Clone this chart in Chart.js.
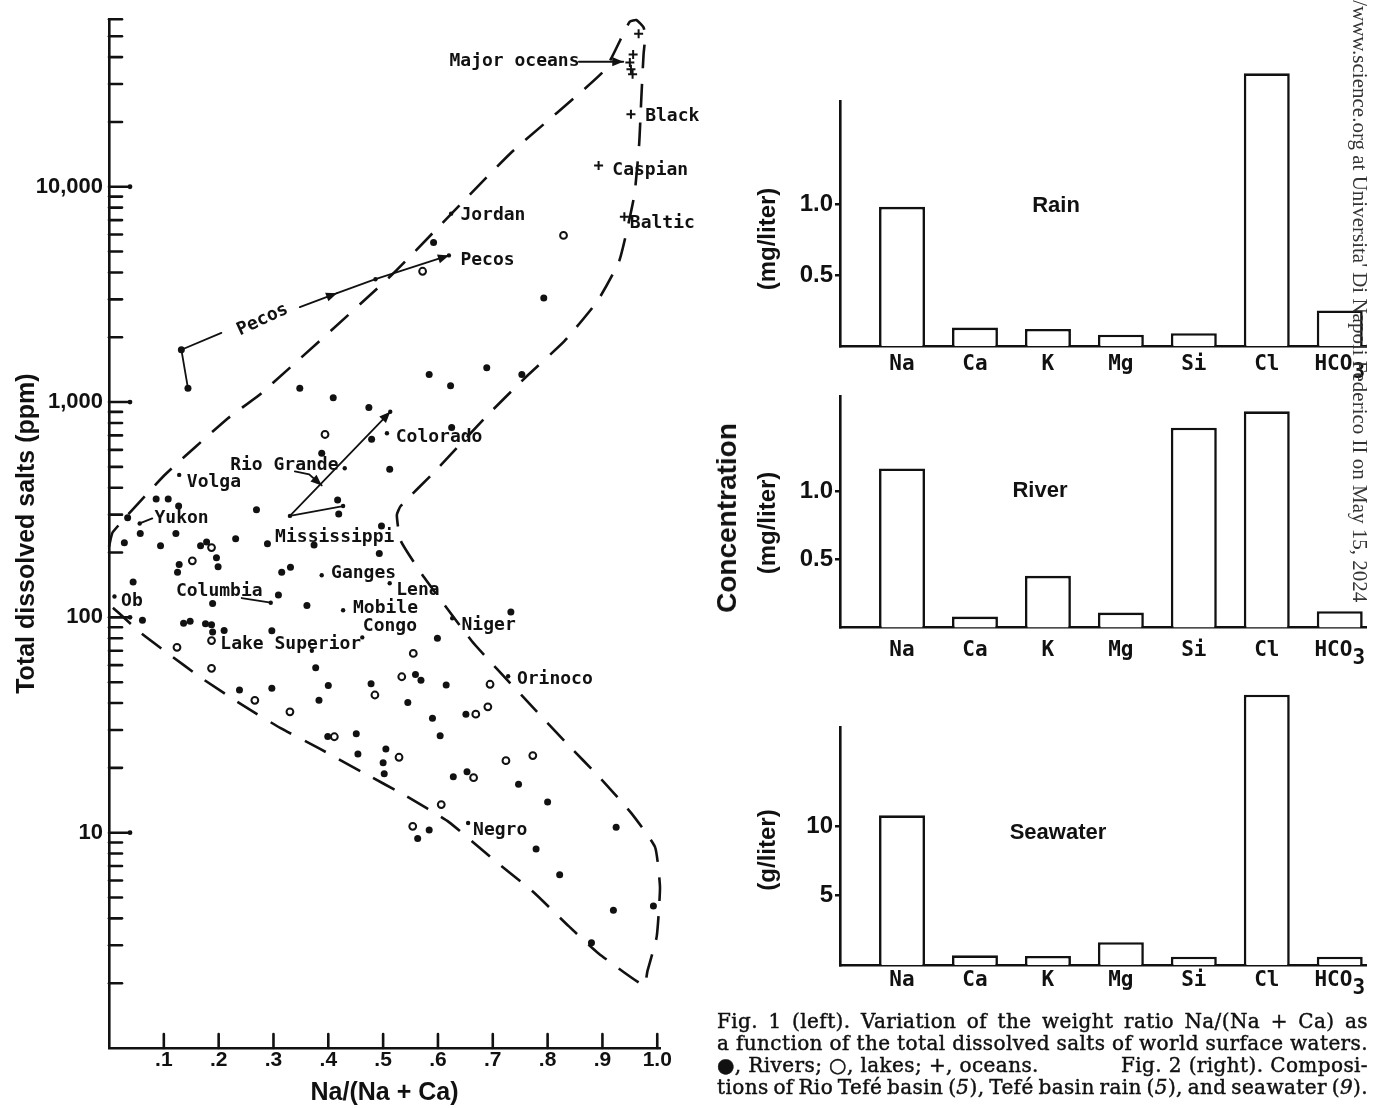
<!DOCTYPE html>
<html>
<head>
<meta charset="utf-8">
<title>Na/(Na + Ca) vs dissolved salts; Rio Tefé compositions</title>
<script src="https://cdn.jsdelivr.net/npm/chart.js@4.4.1/dist/chart.umd.min.js"></script>
<style>
  html, body { margin: 0; padding: 0; background: #fff; }
  body { position: relative; width: 1383px; height: 1108px; overflow: hidden; }
  canvas { position: absolute; }
  #gibbs { left: 0; top: 0; }
  #rain { left: 700px; top: 60px; }
  #river { left: 700px; top: 380px; }
  #sea { left: 700px; top: 690px; }
  .conc {
    position: absolute; left: 727px; top: 518px;
    transform: translate(-50%, -50%) rotate(-90deg);
    font: bold 28px "Liberation Sans", Arial, sans-serif;
    white-space: nowrap; color: #111;
  }
  .stamp {
    position: absolute; left: 1347px; bottom: 506px;
    writing-mode: vertical-rl;
    font: 21px "Liberation Serif", "Times New Roman", serif;
    white-space: nowrap; color: #333;
  }
  .caption {
    position: absolute; left: 717px; top: 1010px; width: 651px;
    font: 20px/22px "DejaVu Serif", "Liberation Serif", serif;
    letter-spacing: 0.4px;
    -webkit-text-stroke: 0.45px #111;
    color: #111;
  }
  .caption .ln { white-space: nowrap; height: 22px; }
  .caption .split { display: flex; justify-content: space-between; }
</style>
</head>
<body>
<canvas id="gibbs" width="700" height="1108"></canvas>
<canvas id="rain" width="683" height="330"></canvas>
<canvas id="river" width="683" height="300"></canvas>
<canvas id="sea" width="683" height="320"></canvas>
<div class="conc">Concentration</div>
<div class="caption">
  <div class="ln"><span>Fig. 1 (left). Variation of the weight ratio Na/(Na + Ca) as</span></div>
  <div class="ln"><span>a function of the total dissolved salts of world surface waters.</span></div>
  <div class="ln split"><span>●, Rivers; ○, lakes; +, oceans.</span><span>Fig. 2 (right). Composi-</span></div>
  <div class="ln"><span>tions of Rio Tefé basin (<i>5</i>), Tefé basin rain (<i>5</i>), and seawater (<i>9</i>).</span></div>
</div>
<div class="stamp">Downloaded from https://www.science.org at Universita' Di Napoli Federico II on May 15, 2024</div>

<script>
// ---- Fig. 1 : Na/(Na+Ca) against total dissolved salts (ppm) ----
const riverPts = [
  [0.793, 3040], [0.592, 5510], [0.144, 1160], [0.132, 1750],
  [0.584, 1343], [0.623, 1190], [0.689, 1442], [0.753, 1343],
  [0.348, 1160], [0.409, 1046], [0.474, 944],
  [0.479, 671], [0.625, 762], [0.388, 578], [0.512, 488],
  [0.086, 355], [0.108, 355], [0.127, 329], [0.269, 316], [0.034, 290],
  [0.417, 351], [0.419, 302], [0.497, 266],
  [0.057, 245], [0.122, 245], [0.028, 222], [0.094, 215], [0.167, 215], [0.178, 224],
  [0.231, 232], [0.289, 220], [0.374, 217], [0.493, 198],
  [0.196, 189], [0.128, 176], [0.199, 172], [0.125, 162], [0.315, 162], [0.331, 171],
  [0.044, 146], [0.309, 127], [0.189, 116], [0.361, 113.5], [0.733, 106],
  [0.061, 97], [0.136, 94], [0.148, 96], [0.176, 93.5], [0.187, 92.5], [0.189, 85.5], [0.21, 87], [0.297, 86.7],
  [0.599, 80], [0.377, 58.4], [0.559, 54.3], [0.569, 51], [0.615, 48.5],
  [0.238, 46], [0.297, 46.9], [0.40, 48.3], [0.478, 49.2], [0.383, 41.2], [0.545, 40.2],
  [0.59, 34], [0.651, 35.5], [0.399, 28], [0.451, 28.8], [0.604, 28.2],
  [0.454, 23.2], [0.505, 24.5], [0.5, 21.1], [0.502, 18.8], [0.628, 18.2], [0.653, 19.2], [0.747, 16.8],
  [0.8, 13.9], [0.584, 10.3], [0.563, 9.4], [0.925, 10.6], [0.779, 8.4], [0.822, 6.37],
  [0.92, 4.36], [0.993, 4.57], [0.88, 3.08]
];
// small dots of the named rivers
const namedRiverPts = [
  [0.624, 7500], [0.486, 3720], [0.62, 4800], [0.513, 901], [0.507, 716], [0.43, 493],
  [0.128, 459], [0.056, 273], [0.33, 296], [0.427, 329], [0.388, 157], [0.512, 144],
  [0.295, 117], [0.01, 125], [0.427, 108], [0.626, 99], [0.462, 80.7], [0.728, 53.3],
  [0.655, 11.1], [0.37, 70]
];
const lakePts = [
  [0.572, 4050], [0.829, 5940], [0.394, 707], [0.187, 211], [0.152, 183],
  [0.187, 78], [0.124, 72.6], [0.555, 68], [0.187, 58], [0.534, 53], [0.695, 48.9],
  [0.266, 41.2], [0.485, 43.6], [0.33, 36.4], [0.669, 35.5], [0.691, 38.4], [0.411, 27.9],
  [0.529, 22.4], [0.724, 21.6], [0.773, 22.8], [0.665, 18.0], [0.606, 13.5], [0.554, 10.7]
];
const oceanPts = [
  [0.966, 51400], [0.956, 41100], [0.95, 37800], [0.952, 35100], [0.955, 33300],
  [0.952, 21700], [0.893, 12550], [0.94, 7260]
];
// dashed boundary (boomerang)
const envelope = [
  [0.0, 213], [0.007, 249], [0.103, 462], [0.217, 841], [0.278, 1100], [0.515, 3880],
  [0.731, 14200], [0.902, 34350], [0.94, 52500], [0.95, 58500], [0.962, 59500], [0.975, 55000],
  [0.978, 50000], [0.975, 41100], [0.971, 26000], [0.967, 15800], [0.958, 9080], [0.931, 4550],
  [0.891, 2945], [0.831, 1923], [0.759, 1297], [0.69, 867], [0.593, 472], [0.532, 329],
  [0.525, 299], [0.532, 227], [0.575, 153], [0.662, 77.5], [0.708, 57.5], [0.774, 38],
  [0.833, 26.3], [0.898, 17.7], [0.953, 12.3], [0.996, 8.57], [1.005, 5.55], [0.999, 3.29],
  [0.982, 2.27], [0.976, 1.95], [0.893, 2.75], [0.839, 3.67], [0.773, 5.33], [0.70, 7.55],
  [0.62, 11.2], [0.54, 14.9], [0.462, 19.1], [0.385, 24.5], [0.313, 30.6], [0.243, 39.2],
  [0.169, 52.2], [0.109, 67.6], [0.058, 84.7], [0.018, 104.7], [0.0, 115]
];
const ppmTicks = [10, 100, 1000, 10000];
const ratioTicks = [0.1, 0.2, 0.3, 0.4, 0.5, 0.6, 0.7, 0.8, 0.9, 1.0];
// [text, x, ppm, rotation]
const fig1Labels = [
  ['Major oceans', 0.621, 38070], ['Black', 0.978, 21200], ['Caspian', 0.918, 11900],
  ['Baltic', 0.95, 6740], ['Jordan', 0.641, 7360], ['Pecos', 0.641, 4570], ['Pecos', 0.28, 2410, -25],
  ['Colorado', 0.523, 686], ['Rio Grande', 0.221, 511], ['Volga', 0.142, 422], ['Yukon', 0.083, 288],
  ['Mississippi', 0.303, 236], ['Ganges', 0.405, 160], ['Lena', 0.524, 133], ['Columbia', 0.122, 132],
  ['Ob', 0.022, 119], ['Mobile', 0.445, 110], ['Congo', 0.463, 90.6], ['Niger', 0.643, 91.8],
  ['Lake Superior', 0.203, 74.8], ['Orinoco', 0.744, 51.5], ['Negro', 0.664, 10.3]
];
const leaders = [
  { pts: [[0.144, 1160], [0.132, 1750], [0.205, 2094]] },
  { pts: [[0.348, 2760], [0.416, 3205]], arrow: true },
  { pts: [[0.416, 3205], [0.486, 3720], [0.62, 4800]], arrow: true },
  { pts: [[0.857, 38070], [0.938, 38070]], arrow: true },
  { pts: [[0.33, 296], [0.513, 901]], arrow: true },
  { pts: [[0.33, 296], [0.427, 329]] },
  { pts: [[0.339, 476], [0.365, 462], [0.388, 410]], arrow: true },
  { pts: [[0.242, 123], [0.295, 117]] },
  { pts: [[0.056, 273], [0.079, 288]] }
];

// ---- Fig. 2 : compositions ----
const elements = ['Na', 'Ca', 'K', 'Mg', 'Si', 'Cl', 'HCO3'];
const rainMgL = [0.98, 0.13, 0.12, 0.08, 0.09, 1.92, 0.25];
const riverMgL = [1.17, 0.08, 0.38, 0.11, 1.47, 1.59, 0.12];
const seaGL = [10.8, 0.7, 0.65, 1.65, 0.6, 19.5, 0.6];
const mgTicks = [0.5, 1.0];
const gTicks = [5, 10];

const INK = '#111';
const SANS = '"Liberation Sans", Arial, sans-serif';
const MONO = '"DejaVu Sans Mono", monospace';
const toXY = arr => arr.map(([x, y]) => ({ x, y }));

function arrowHead(ctx, from, to, size) {
  const a = Math.atan2(to[1] - from[1], to[0] - from[0]);
  const bx = to[0] - size * Math.cos(a), by = to[1] - size * Math.sin(a);
  const w = size * 0.42;
  ctx.beginPath();
  ctx.moveTo(to[0], to[1]);
  ctx.lineTo(bx + w * Math.sin(a), by - w * Math.cos(a));
  ctx.lineTo(bx - w * Math.sin(a), by + w * Math.cos(a));
  ctx.closePath();
  ctx.fill();
}

// inward axis ticks, leader lines and river names
const gibbsExtras = {
  id: 'gibbsExtras',
  afterDraw(chart) {
    const { ctx, chartArea: a, scales: { x, y } } = chart;
    const px = p => [x.getPixelForValue(p[0]), y.getPixelForValue(p[1])];
    ctx.save();
    ctx.strokeStyle = INK; ctx.fillStyle = INK; ctx.lineCap = 'round';
    ctx.lineWidth = 2.6;
    for (let k = 0; k <= 4; k++) {
      for (let m = 1; m <= 9; m++) {
        const v = m * Math.pow(10, k);
        if (v <= 1 || v > 60000) continue;
        const yy = y.getPixelForValue(v);
        const len = m === 1 ? 21 : 13;
        ctx.beginPath(); ctx.moveTo(a.left, yy); ctx.lineTo(a.left + len, yy); ctx.stroke();
        if (m === 1) { ctx.beginPath(); ctx.arc(a.left + len, yy, 2.4, 0, Math.PI * 2); ctx.fill(); }
      }
    }
    ratioTicks.forEach(v => {
      const xx = x.getPixelForValue(v);
      ctx.beginPath(); ctx.moveTo(xx, a.bottom); ctx.lineTo(xx, a.bottom - 14); ctx.stroke();
    });

    ctx.lineWidth = 1.8;
    leaders.forEach(l => {
      const pts = l.pts.map(px);
      ctx.beginPath();
      pts.forEach((p, i) => (i ? ctx.lineTo(p[0], p[1]) : ctx.moveTo(p[0], p[1])));
      ctx.stroke();
      if (l.arrow) arrowHead(ctx, pts[pts.length - 2], pts[pts.length - 1], 11);
    });

    ctx.font = 'bold 18px ' + MONO;
    ctx.textBaseline = 'middle';
    fig1Labels.forEach(([t, vx, vy, rot]) => {
      const [lx, ly] = px([vx, vy]);
      if (rot) {
        ctx.save(); ctx.translate(lx, ly); ctx.rotate(rot * Math.PI / 180);
        ctx.textAlign = 'center'; ctx.fillText(t, 0, 0); ctx.restore();
      } else {
        ctx.textAlign = 'left'; ctx.fillText(t, lx, ly);
      }
    });
    ctx.restore();
  }
};

new Chart(document.getElementById('gibbs'), {
  type: 'scatter',
  data: {
    datasets: [
      { data: toXY(envelope), showLine: true, borderColor: INK, borderWidth: 2.6, borderDash: [24, 15],
        pointRadius: 0, tension: 0.15, fill: false, clip: false },
      { data: toXY(riverPts), pointRadius: 3.5, backgroundColor: INK, borderColor: INK, borderWidth: 0, clip: false },
      { data: toXY(namedRiverPts), pointRadius: 2.2, backgroundColor: INK, borderColor: INK, borderWidth: 0, clip: false },
      { data: toXY(lakePts), pointRadius: 3.4, backgroundColor: '#fff', borderColor: INK, borderWidth: 2, clip: false },
      { data: toXY(oceanPts), pointStyle: 'cross', pointRadius: 4.5, borderColor: INK, borderWidth: 2, clip: false }
    ]
  },
  options: {
    responsive: false,
    animation: false,
    layout: { padding: { left: 0, top: 14, right: 40, bottom: 0 } },
    plugins: { legend: { display: false }, tooltip: { enabled: false } },
    scales: {
      x: {
        type: 'linear', min: 0, max: 1.005,
        afterFit: s => { s.height = 60; },
        afterBuildTicks: s => { s.ticks = ratioTicks.map(v => ({ value: v })); },
        ticks: {
          autoSkip: false, maxRotation: 0, padding: 0, color: INK,
          font: { family: SANS, size: 21, weight: 'bold' },
          callback: v => (v >= 1 ? '1.0' : '.' + Math.round(v * 10))
        },
        grid: { display: false, drawTicks: false },
        border: { display: true, color: INK, width: 2.6 },
        title: { display: true, text: 'Na/(Na + Ca)', color: INK,
                 font: { family: SANS, size: 25, weight: 'bold' }, padding: { top: 0, bottom: 0 } }
      },
      y: {
        type: 'logarithmic', min: 1, max: 60000,
        afterFit: s => { s.width = 109; },
        afterBuildTicks: s => { s.ticks = ppmTicks.map(v => ({ value: v })); },
        ticks: {
          autoSkip: false, padding: 6, color: INK,
          font: { family: SANS, size: 22, weight: 'bold' },
          callback: v => Number(v).toLocaleString('en-US')
        },
        grid: { display: false, drawTicks: false },
        border: { display: true, color: INK, width: 2.6 },
        title: { display: true, text: 'Total dissolved salts (ppm)', color: INK,
                 font: { family: SANS, size: 25, weight: 'bold' }, padding: { top: 12, bottom: 0 } }
      }
    }
  },
  plugins: [gibbsExtras]
});

// panel name, unit label and the lowered "3" of HCO3
const barPanel = {
  id: 'barPanel',
  afterDraw(chart, args, o) {
    const { ctx, chartArea: a, scales: { x } } = chart;
    ctx.save();
    ctx.fillStyle = INK;
    ctx.textAlign = 'center'; ctx.textBaseline = 'middle';
    ctx.font = 'bold 22px ' + SANS;
    ctx.fillText(o.title, o.titleX, o.titleY);
    ctx.save();
    ctx.translate(o.unitX, o.unitY); ctx.rotate(-Math.PI / 2);
    ctx.font = 'bold 24px ' + SANS;
    ctx.fillText(o.unit, 0, 0);
    ctx.restore();
    ctx.font = 'bold 21px ' + MONO;
    const cx = x.getPixelForValue(elements.indexOf('HCO3'));
    const full = ctx.measureText('HCO3').width, head = ctx.measureText('HCO').width;
    ctx.textAlign = 'left';
    ctx.fillText('3', cx - full / 2 + head, a.bottom + o.labelPad + 12.6 + 8);
    ctx.restore();
  }
};

function makePanel(id, values, yTicks, yMax, fmt, p) {
  new Chart(document.getElementById(id), {
    type: 'bar',
    data: {
      datasets: [{
        data: values.map((v, i) => ({ x: i, y: v })),
        backgroundColor: '#fff', borderColor: INK, borderWidth: 2.6,
        barPercentage: 0.63, categoryPercentage: 1, clip: false
      }]
    },
    options: {
      responsive: false,
      animation: false,
      layout: { padding: { left: 0, right: 17, top: p.top, bottom: 0 } },
      plugins: { legend: { display: false }, tooltip: { enabled: false }, barPanel: p },
      scales: {
        x: {
          type: 'linear', min: -0.85, max: 6.36, offset: false,
          afterFit: s => { s.height = p.xh; },
          afterBuildTicks: s => { s.ticks = elements.map((e, i) => ({ value: i })); },
          ticks: {
            autoSkip: false, maxRotation: 0, padding: p.labelPad, color: INK,
            font: { family: MONO, size: 21, weight: 'bold' },
            callback: v => (elements[v] === 'HCO3' ? 'HCO ' : elements[v])
          },
          grid: { display: false, drawTicks: false },
          border: { display: true, color: INK, width: 2.6 }
        },
        y: {
          min: 0, max: yMax,
          afterFit: s => { s.width = 140; },
          afterBuildTicks: s => { s.ticks = yTicks.map(v => ({ value: v })); },
          ticks: { padding: 2, color: INK, font: { family: SANS, size: 24, weight: 'bold' }, callback: fmt },
          grid: { drawOnChartArea: false, tickLength: 5, color: INK, lineWidth: 2.5 },
          border: { display: true, color: INK, width: 2.6 }
        }
      }
    },
    plugins: [barPanel]
  });
}

makePanel('rain', rainMgL, mgTicks, 1.725, v => v.toFixed(1),
  { top: 41, xh: 44, labelPad: 6, title: 'Rain', titleX: 356, titleY: 146, unit: '(mg/liter)', unitX: 68, unitY: 179 });
makePanel('river', riverMgL, mgTicks, 1.70, v => v.toFixed(1),
  { top: 10, xh: 52.5, labelPad: 10, title: 'River', titleX: 340, titleY: 111, unit: '(mg/liter)', unitX: 68, unitY: 143 });
makePanel('sea', seaGL, gTicks, 17.17, v => String(v),
  { top: 37, xh: 45, labelPad: 3, title: 'Seawater', titleX: 358, titleY: 143, unit: '(g/liter)', unitX: 68, unitY: 160 });

// justify each caption line to the column width
document.querySelectorAll('.caption .ln:not(.split)').forEach(el => {
  const span = el.firstElementChild;
  const gaps = (span.textContent.match(/ /g) || []).length;
  const spare = el.clientWidth - span.getBoundingClientRect().width;
  if (gaps) el.style.wordSpacing = (spare / gaps) + 'px';
});
</script>
</body>
</html>
